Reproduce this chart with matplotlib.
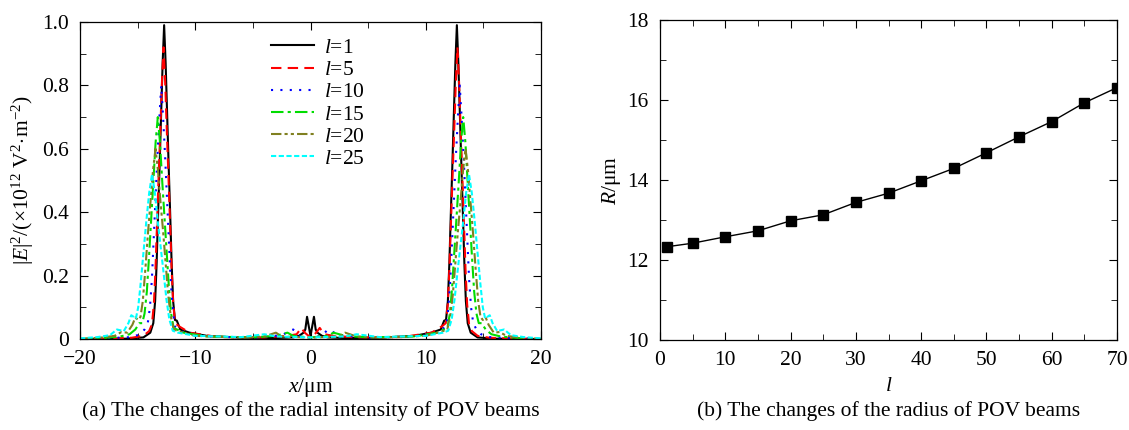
import numpy as np
import matplotlib
matplotlib.use('Agg')
import matplotlib.pyplot as plt
from matplotlib.ticker import MultipleLocator

plt.rcParams['font.family'] = 'Liberation Serif'
plt.rcParams['mathtext.fontset'] = 'custom'
plt.rcParams['mathtext.rm'] = 'Liberation Serif'
plt.rcParams['mathtext.it'] = 'Liberation Serif:italic'
plt.rcParams['mathtext.bf'] = 'Liberation Serif:bold'

# (a) radial intensity, half profiles (x >= 0), mirrored for x < 0
x_l1 = [0, 0.15, 0.3, 0.45, 0.6, 1.0, 1.5, 3, 6, 9, 10.5, 11.3, 11.6, 11.76, 11.92, 12.05, 12.18, 12.31, 12.44,
        12.57, 12.7, 12.83, 12.96, 13.09, 13.22, 13.35, 13.48, 13.64, 13.9, 14.5, 16, 18, 20]
y_l1 = [0.01, 0.04, 0.07, 0.03, 0.02, 0.01, 0.005, 0.003, 0.004, 0.01, 0.02, 0.03, 0.058, 0.06, 0.12, 0.24,
        0.40, 0.55, 0.71, 0.87, 0.99, 0.87, 0.71, 0.55, 0.40, 0.24, 0.12, 0.05, 0.02, 0.005, 0.001, 0, 0]

x_l5 = [0, 0.5, 0.8, 1.2, 2, 4, 8, 10.5, 11.4, 11.74, 11.91, 12.05, 12.19, 12.33, 12.47, 12.61, 12.75, 12.89,
        13.03, 13.17, 13.31, 13.45, 13.59, 13.76, 14.0, 14.5, 15.5, 17, 20]
y_l5 = [0.005, 0.02, 0.035, 0.015, 0.01, 0.005, 0.006, 0.02, 0.04, 0.05, 0.11, 0.22, 0.37, 0.52, 0.66, 0.81,
        0.92, 0.81, 0.66, 0.52, 0.37, 0.22, 0.11, 0.046, 0.025, 0.01, 0.004, 0.002, 0]

x_l10 = [0, 1.0, 1.5, 2.5, 5, 9, 11, 11.78, 11.97, 12.14, 12.30, 12.46, 12.62, 12.79, 12.95, 13.11, 13.28,
         13.44, 13.60, 13.76, 13.93, 14.12, 14.4, 14.8, 15.5, 18, 20]
y_l10 = [0.004, 0.01, 0.03, 0.012, 0.004, 0.008, 0.02, 0.04, 0.10, 0.19, 0.32, 0.45, 0.58, 0.70, 0.80, 0.70,
         0.58, 0.45, 0.32, 0.19, 0.10, 0.05, 0.03, 0.015, 0.006, 0.002, 0]

x_l15 = [0, 1.5, 2, 3, 5, 9, 11, 11.88, 12.11, 12.30, 12.49, 12.68, 12.87, 13.06, 13.25, 13.44, 13.63, 13.82,
         14.01, 14.2, 14.4, 14.6, 14.85, 15.2, 15.7, 16.5, 18, 20]
y_l15 = [0.005, 0.01, 0.02, 0.01, 0.005, 0.008, 0.02, 0.035, 0.084, 0.17, 0.28, 0.39, 0.50, 0.62, 0.70, 0.62,
         0.50, 0.38, 0.26, 0.15, 0.08, 0.05, 0.05, 0.03, 0.015, 0.008, 0.003, 0]

x_l20 = [0, 2.5, 3, 4, 6, 10, 11.5, 11.87, 12.13, 12.35, 12.57, 12.79, 13.01, 13.23, 13.45, 13.67, 13.89, 14.11,
         14.33, 14.55, 14.75, 14.95, 15.2, 15.45, 15.9, 16.4, 17, 18, 20]
y_l20 = [0.004, 0.008, 0.02, 0.008, 0.004, 0.01, 0.025, 0.03, 0.072, 0.14, 0.24, 0.34, 0.43, 0.53, 0.60, 0.53,
         0.43, 0.33, 0.22, 0.12, 0.07, 0.06, 0.068, 0.045, 0.02, 0.022, 0.01, 0.005, 0]

x_l25 = [0, 3, 4, 6, 10, 11.5, 11.95, 12.25, 12.5, 12.75, 13.0, 13.25, 13.5, 13.75, 14.0, 14.25, 14.5, 14.75,
         14.95, 15.15, 15.35, 15.55, 15.8, 16.2, 16.8, 17.4, 18.5, 20]
y_l25 = [0.005, 0.008, 0.015, 0.006, 0.01, 0.02, 0.026, 0.062, 0.125, 0.21, 0.29, 0.37, 0.46, 0.52, 0.46, 0.37,
         0.27, 0.17, 0.10, 0.065, 0.07, 0.075, 0.05, 0.025, 0.03, 0.012, 0.006, 0.002]

profiles = [(x_l1, y_l1), (x_l5, y_l5), (x_l10, y_l10), (x_l15, y_l15), (x_l20, y_l20), (x_l25, y_l25)]
l_labels = ['1', '5', '10', '15', '20', '25']

# (b) radius vs topological charge
l_vals = [1, 5, 10, 15, 20, 25, 30, 35, 40, 45, 50, 55, 60, 65, 70]
R_vals = [12.33, 12.42, 12.58, 12.73, 12.98, 13.13, 13.44, 13.67, 13.98, 14.29, 14.68, 15.08, 15.46, 15.93, 16.31]

colors = ['black', 'red', 'blue', '#00dd00', '#808020', 'cyan']
styles = ['-', (0, (5, 3)), (0, (1, 3.5)), (0, (6, 2, 1.5, 2)), (0, (5, 1.5, 1.5, 1.5, 1.5, 1.5)), (0, (2.5, 1.2))]

fig = plt.figure(figsize=(11.29, 4.30), dpi=100)
ax1 = fig.add_axes([80/1129, 1-339/430, 461/1129, 317/430])
ax2 = fig.add_axes([660/1129, 1-340/430, 457/1129, 320/430])

fs = 15.5
for (xs, ys), c, ls, lab in zip(profiles, colors, styles, l_labels):
    xs = np.asarray(xs)
    ys = np.asarray(ys)
    xf = np.concatenate([-xs[::-1], xs[1:]])
    yf = np.concatenate([ys[::-1], ys[1:]])
    ax1.plot(xf, yf, color=c, linestyle=ls, linewidth=1.5, label='$l$=' + lab)

ax1.set_xlim(-20, 20)
ax1.set_ylim(0, 1.0)
ax1.xaxis.set_minor_locator(MultipleLocator(5))
ax1.yaxis.set_minor_locator(MultipleLocator(0.1))
ax1.set_yticks([0, 0.2, 0.4, 0.6, 0.8, 1.0])
ax1.set_yticklabels(['0', '0.2', '0.4', '0.6', '0.8', '1.0'])
ax1.set_xticks([-20, -10, 0, 10, 20])
ax1.set_xticklabels(['\u221220', '\u221210', '0', '10', '20'])
ax1.set_xlabel('$x$/\u03bcm', fontsize=fs, labelpad=5)
ax1.set_ylabel(r'$|E|^2/(\times10^{12}\ \mathrm{V}^2\!\cdot\!\mathrm{m}^{-2})$', fontsize=fs, labelpad=4)
ax1.legend(loc='upper left', bbox_to_anchor=(0.415, 0.95), frameon=False, fontsize=fs, borderpad=0,
           handlelength=2.0, labelspacing=0.1, borderaxespad=0, handletextpad=0.45)

ax2.plot(l_vals, R_vals, color='black', linewidth=1.0, marker='s', markersize=6.5)
ax2.set_xlim(0, 70)
ax2.set_ylim(10, 18)
ax2.xaxis.set_major_locator(MultipleLocator(10))
ax2.xaxis.set_minor_locator(MultipleLocator(5))
ax2.yaxis.set_major_locator(MultipleLocator(2))
ax2.yaxis.set_minor_locator(MultipleLocator(1))
ax2.set_xlabel('$l$', fontsize=fs, labelpad=5)
ax2.set_ylabel('$R$/\u03bcm', fontsize=fs, labelpad=3)

for ax in (ax1, ax2):
    ax.tick_params(which='both', direction='in', top=True, right=True, labelsize=fs, pad=8)
    ax.tick_params(which='major', length=6)
    ax.tick_params(which='minor', length=4)
    for s in ax.spines.values():
        s.set_linewidth(0.9)

fig.text((80 + 461/2)/1129, 1-411/430, '(a) The changes of the radial intensity of POV beams',
         ha='center', va='center', fontsize=fs)
fig.text((660 + 457/2)/1129, 1-411/430, '(b) The changes of the radius of POV beams',
         ha='center', va='center', fontsize=fs)

fig.savefig('out.png', dpi=100)
